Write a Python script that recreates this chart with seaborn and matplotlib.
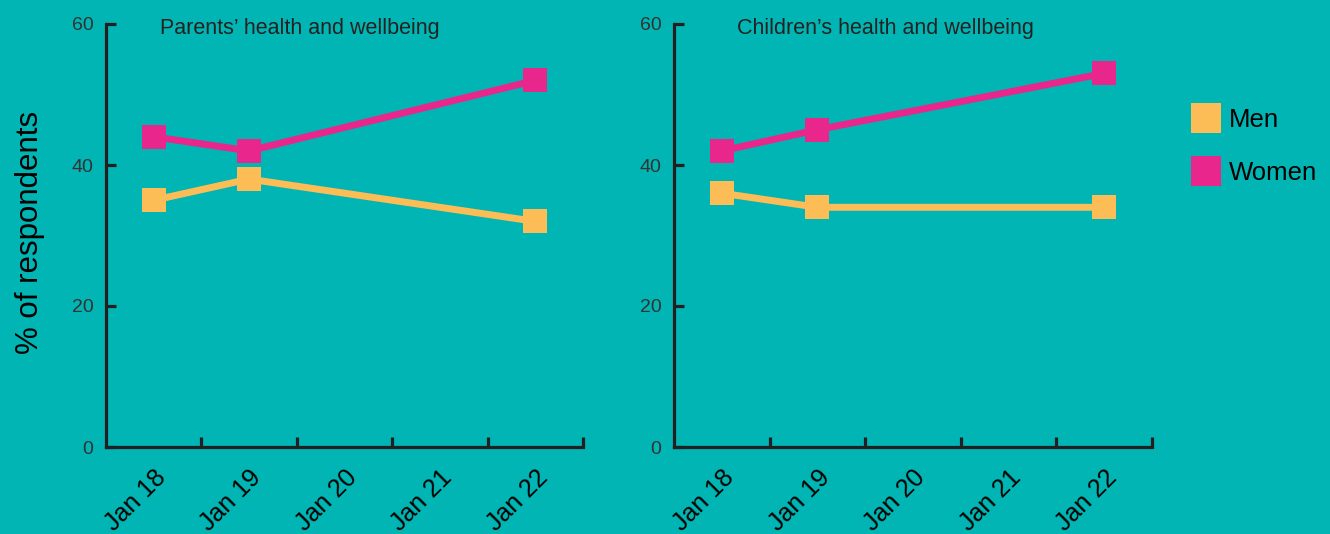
import matplotlib
matplotlib.use("Agg")
import matplotlib.pyplot as plt
from matplotlib.lines import Line2D
import seaborn as sns
import pandas as pd

periods = ["Jan 18", "Jan 19", "Jan 20", "Jan 21", "Jan 22"]
survey_periods = ["Jan 18", "Jan 19", "Jan 22"]
panel_titles = ["Parents\u2019 health and wellbeing", "Children\u2019s health and wellbeing"]
parents_men = [35, 38, 32]
parents_women = [44, 42, 52]
children_men = [36, 34, 34]
children_women = [42, 45, 53]
series_names = ["Men", "Women"]
y_ticks = [0, 20, 40, 60]

BG = "#00B5B3"
AX = "#231F20"
colors = {"Men": "#FDBD56", "Women": "#E8268C"}

sns.set_theme(style="white")
plt.rcParams["font.family"] = ["Liberation Sans", "DejaVu Sans"]

fig = plt.figure(figsize=(13.3, 5.34), dpi=100, facecolor=BG)
W, H = 1330, 534
axes_px = [(106, 583), (674, 1152)]
title_offsets_px = [54, 63]
top_px, bot_px = 24, 447

panels = [(parents_men, parents_women), (children_men, children_women)]

for (x0, x1), toff, title, (men, women) in zip(axes_px, title_offsets_px, panel_titles, panels):
    ax = fig.add_axes([x0 / W, 1 - bot_px / H, (x1 - x0) / W, (bot_px - top_px) / H])
    ax.set_facecolor(BG)
    rows = []
    for name, vals in zip(series_names, [men, women]):
        for p, v in zip(survey_periods, vals):
            rows.append({"x": periods.index(p), "value": v, "series": name})
    df = pd.DataFrame(rows)
    sns.lineplot(data=df, x="x", y="value", hue="series", palette=colors,
                 marker="s", markersize=17.5, markeredgewidth=0, linewidth=5.0,
                 legend=False, ax=ax, clip_on=False)
    ax.set_xlim(-0.5, len(periods) - 0.5)
    ax.set_ylim(0, 60)
    ax.set_xticks(range(len(periods)))
    ax.set_xticklabels(periods, rotation=45, ha="right", va="top",
                       rotation_mode="anchor", fontsize=18, color="black")
    ax.set_xticks([i + 0.5 for i in range(len(periods))], minor=True)
    ax.tick_params(axis="x", which="major", length=0, pad=13, bottom=True)
    ax.tick_params(axis="x", which="minor", direction="in", length=7, width=2.3,
                   color=AX, bottom=True)
    ax.set_yticks(y_ticks)
    ax.set_yticklabels([str(t) for t in y_ticks], fontsize=14, color="#333333")
    ax.tick_params(axis="y", direction="in", length=7, width=2.3, color=AX, pad=9,
                   left=True)
    for s in ["top", "right"]:
        ax.spines[s].set_visible(False)
    for s in ["left", "bottom"]:
        ax.spines[s].set_color(AX)
        ax.spines[s].set_linewidth(2.3)
    ax.set_xlabel("")
    ax.set_ylabel("")
    ax.text(toff / (x1 - x0), 0.99, title, transform=ax.transAxes, ha="left",
            va="center", fontsize=15.5, color="#222222")

fig.text(30 / W, 1 - 232 / H, "% of respondents", rotation=90, ha="center", va="center",
         fontsize=22.5, color="black")

handles = [Line2D([], [], linestyle="none", marker="s", markersize=21,
                  markerfacecolor=colors[n], markeredgewidth=0) for n in series_names]
leg = fig.legend(handles, series_names, loc="upper left",
                 bbox_to_anchor=(1180 / W, 1 - 98 / H),
                 frameon=False, fontsize=18.5, handletextpad=0.3, labelspacing=1.12,
                 handlelength=1.2, borderaxespad=0)
for t in leg.get_texts():
    t.set_color("black")

fig.savefig("out.png", dpi=100, facecolor=BG)
